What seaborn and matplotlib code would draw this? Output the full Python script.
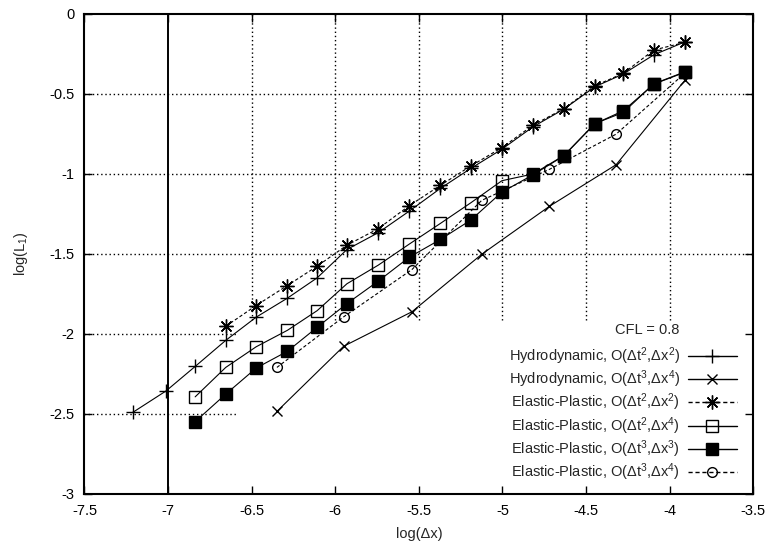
import numpy as np
import pandas as pd
import matplotlib
matplotlib.use("Agg")
import matplotlib.pyplot as plt
import seaborn as sns

# ---------------- data ----------------
x_h22 = [-7.211, -7.012, -6.838, -6.655, -6.473, -6.286, -6.108, -5.930, -5.743, -5.557,
         -5.371, -5.189, -5.003, -4.817, -4.633, -4.447, -4.277, -4.094, -3.910]
y_h22 = [-2.490, -2.356, -2.203, -2.040, -1.895, -1.776, -1.649, -1.472, -1.367, -1.232,
         -1.090, -0.965, -0.845, -0.705, -0.595, -0.455, -0.375, -0.255, -0.175]

x_h34 = [-6.349, -5.950, -5.541, -5.124, -4.719, -4.320, -3.909]
y_h34 = [-2.484, -2.077, -1.861, -1.502, -1.202, -0.942, -0.415]

x_e22 = [-6.655, -6.473, -6.286, -6.108, -5.930, -5.743, -5.557, -5.371, -5.189, -5.003,
         -4.817, -4.633, -4.447, -4.277, -4.094, -3.910]
y_e22 = [-1.952, -1.822, -1.697, -1.576, -1.445, -1.342, -1.198, -1.071, -0.950, -0.835,
         -0.695, -0.592, -0.449, -0.371, -0.225, -0.178]

x_e24 = [-6.838, -6.655, -6.473, -6.286, -6.108, -5.930, -5.743, -5.557, -5.371, -5.189,
         -5.003, -4.817, -4.633, -4.447, -4.277, -4.094, -3.910]
y_e24 = [-2.393, -2.209, -2.080, -1.977, -1.854, -1.686, -1.570, -1.438, -1.309, -1.180,
         -1.042, -1.000, -0.885, -0.685, -0.615, -0.436, -0.362]

x_e33 = [-6.838, -6.655, -6.473, -6.286, -6.108, -5.930, -5.743, -5.557, -5.371, -5.189,
         -5.003, -4.817, -4.633, -4.447, -4.277, -4.094, -3.910]
y_e33 = [-2.548, -2.376, -2.213, -2.108, -1.958, -1.810, -1.670, -1.520, -1.409, -1.288,
         -1.113, -1.005, -0.887, -0.686, -0.605, -0.438, -0.365]

x_e34 = [-6.349, -5.950, -5.541, -5.124, -4.719, -4.320, -3.909]
y_e34 = [-2.209, -1.893, -1.597, -1.165, -0.971, -0.751, -0.370]

labels = [
    "Hydrodynamic, O(\u0394t$^2$,\u0394x$^2$)",
    "Hydrodynamic, O(\u0394t$^3$,\u0394x$^4$)",
    "Elastic-Plastic, O(\u0394t$^2$,\u0394x$^2$)",
    "Elastic-Plastic, O(\u0394t$^2$,\u0394x$^4$)",
    "Elastic-Plastic, O(\u0394t$^3$,\u0394x$^3$)",
    "Elastic-Plastic, O(\u0394t$^3$,\u0394x$^4$)",
]
title_text = "CFL = 0.8"
x_ticks = [-7.5, -7, -6.5, -6, -5.5, -5, -4.5, -4, -3.5]
y_ticks = [0, -0.5, -1, -1.5, -2, -2.5, -3]

# ---------------- style ----------------
sns.set_style("ticks")
plt.rcParams["font.family"] = ["Liberation Sans", "DejaVu Sans"]
plt.rcParams["mathtext.default"] = "regular"
plt.rcParams["axes.unicode_minus"] = False

FS = 10.5

fig = plt.figure(figsize=(7.7, 5.42), dpi=100)
ax = fig.add_axes([0.1097, 0.0886, 0.8685, 0.8856])

xmin, xmax, ymin, ymax = -7.5, -3.5, -3.0, 0.0

# grid (gnuplot style, clipped around the key)
key_x = -6.59
key_y = -1.91
for yv in [-0.5, -1.0, -1.5]:
    ax.axhline(yv, color="black", lw=1.0, ls=(0, (1, 2)), zorder=1)
for yv in [-2.0, -2.5]:
    ax.axhline(yv, xmin=0, xmax=(key_x - xmin) / (xmax - xmin), color="black",
               lw=1.0, ls=(0, (1, 2)), zorder=1)
for xv in [-6.5, -6.0, -5.5, -5.0, -4.5, -4.0]:
    ax.axvline(xv, ymin=(key_y - ymin) / (ymax - ymin), ymax=1, color="black",
               lw=1.0, ls=(0, (1, 2)), zorder=1)
ax.axvline(-7.0, color="black", lw=1.4, zorder=1)

series = [
    (x_h22, y_h22, dict(marker="+", markersize=10, markeredgewidth=1.0, linestyle="-")),
    (x_h34, y_h34, dict(marker="x", markersize=7, markeredgewidth=1.0, linestyle="-")),
    (x_e22, y_e22, dict(marker=(8, 2, 0), markersize=10, markeredgewidth=1.0, linestyle=(0, (3, 2)))),
    (x_e24, y_e24, dict(marker="s", markersize=8, markeredgewidth=1.0, markerfacecolor="none", linestyle="-")),
    (x_e33, y_e33, dict(marker="s", markersize=8, markeredgewidth=1.0, markerfacecolor="black", linestyle="-")),
    (x_e34, y_e34, dict(marker="o", markersize=7, markeredgewidth=1.0, markerfacecolor="none", linestyle=(0, (3, 2)))),
]

for (xs, ys, kw), lab in zip(series, labels):
    df = pd.DataFrame({"x": xs, "y": ys})
    sns.lineplot(data=df, x="x", y="y", ax=ax, sort=False, estimator=None,
                 color="black", linewidth=0.8, markeredgecolor="black",
                 label=lab, zorder=3, **kw)

ax.set_xlim(xmin, xmax)
ax.set_ylim(ymin, ymax)
ax.set_xticks(x_ticks)
ax.set_yticks(y_ticks)
ax.set_xticklabels([("%g" % v) for v in x_ticks])
ax.set_yticklabels([("%g" % v) for v in y_ticks])
ax.tick_params(direction="in", length=6, width=1.0, top=True, right=True,
               labelsize=FS, pad=7, colors="black")
for s in ax.spines.values():
    s.set_linewidth(1.5)
    s.set_color("black")

ax.set_xlabel("log(\u0394x)", fontsize=FS, labelpad=7)
ax.set_ylabel("log(L$_1$)", fontsize=FS, labelpad=14)

leg = ax.legend(loc="lower right", bbox_to_anchor=(0.976, 0.022), borderaxespad=0,
                borderpad=0, frameon=False, markerfirst=False, handlelength=3.4,
                handletextpad=0.5, labelspacing=0.12, fontsize=FS)
for ln in leg.get_lines():
    ln.set_linewidth(1.0)

ax.text(0.841, 0.342, title_text, transform=ax.transAxes, ha="center", va="center",
        fontsize=FS)

fig.savefig("out.png", dpi=100)
